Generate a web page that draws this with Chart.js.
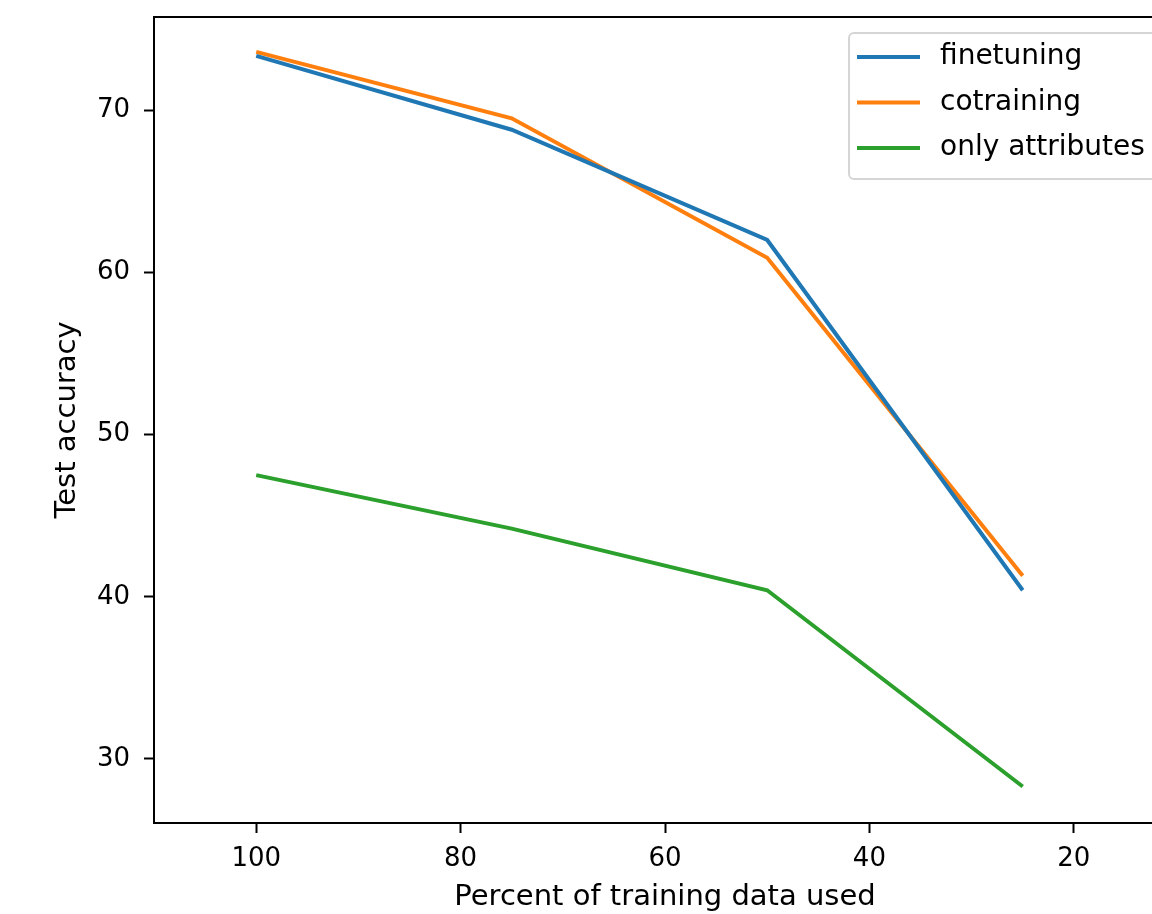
<!DOCTYPE html>
<html>
<head>
<meta charset="utf-8">
<script src="https://cdn.jsdelivr.net/npm/chart.js@4.4.1/dist/chart.umd.min.js"></script>
<style>
  html, body { margin: 0; padding: 0; background: #fff; overflow: hidden; width: 1152px; height: 914px; }
  #wrap { position: absolute; left: 0; top: 0; width: 1200px; height: 914px; }
  canvas { display: block; }
</style>
</head>
<body>
<div id="wrap"><canvas id="c" width="1200" height="914"></canvas></div>
<script>
// ---- data ----
const percentUsed = [100, 75, 50, 25];
const finetuning = [73.35, 68.8, 62.0, 40.4];
const cotraining = [73.6, 69.5, 60.9, 41.3];
const onlyAttributes = [47.5, 44.2, 40.4, 28.3];
const seriesNames = ['finetuning', 'cotraining', 'only attributes'];
const xTicks = [100, 80, 60, 40, 20];
const yTicks = [30, 40, 50, 60, 70];
const xLabel = 'Percent of training data used';
const yLabel = 'Test accuracy';

const colors = ['#1f77b4', '#ff7f0e', '#2ca02c'];
const FONT = '"DejaVu Sans", sans-serif';

function pts(vals) { return percentUsed.map((x, i) => ({ x: x, y: vals[i] })); }

const frame = {
  id: 'frame',
  afterDatasetsDraw(chart) {
    const { ctx, chartArea: a } = chart;
    ctx.save();
    ctx.strokeStyle = '#000';
    ctx.lineWidth = 2;
    ctx.strokeRect(a.left, a.top, a.right - a.left, a.bottom - a.top);
    ctx.restore();
  }
};

const legendBox = {
  id: 'legendBox',
  afterDraw(chart) {
    const { ctx, chartArea: a } = chart;
    const left = a.right - 327, top = 33, w = 320, h = 146;
    ctx.save();
    ctx.beginPath();
    ctx.roundRect(left, top, w, h, 5);
    ctx.fillStyle = 'rgba(255,255,255,0.8)';
    ctx.fill();
    ctx.strokeStyle = '#d5d5d5';
    ctx.lineWidth = 2;
    ctx.stroke();
    ctx.font = '28px ' + FONT;
    ctx.textBaseline = 'middle';
    ctx.textAlign = 'left';
    chart.data.datasets.forEach((ds, i) => {
      const y = 57 + i * 45.5;
      ctx.strokeStyle = ds.borderColor;
      ctx.lineWidth = 4;
      ctx.beginPath();
      ctx.moveTo(left + 8, y);
      ctx.lineTo(left + 71, y);
      ctx.stroke();
      ctx.fillStyle = '#000';
      ctx.fillText(ds.label, left + 91, y);
    });
    ctx.restore();
  }
};

new Chart(document.getElementById('c'), {
  type: 'line',
  data: {
    datasets: [
      { label: seriesNames[0], data: pts(finetuning), borderColor: colors[0] },
      { label: seriesNames[1], data: pts(cotraining), borderColor: colors[1] },
      { label: seriesNames[2], data: pts(onlyAttributes), borderColor: colors[2] }
    ].map(d => Object.assign(d, { borderWidth: 4, pointRadius: 0, tension: 0, fill: false, backgroundColor: d.borderColor, borderJoinStyle: 'miter' }))
  },
  options: {
    responsive: false,
    animation: false,
    devicePixelRatio: 1,
    layout: { padding: { left: 0, top: 17, right: 24, bottom: 0 } },
    plugins: { legend: { display: false }, tooltip: { enabled: false } },
    scales: {
      x: {
        type: 'linear',
        reverse: true,
        min: 10, max: 110,
        afterBuildTicks: s => { s.ticks = xTicks.map(v => ({ value: v })); },
        afterFit: s => { s.height = 91; s.paddingLeft = 0; s.paddingRight = 0; },
        grid: { display: true, drawOnChartArea: false, drawTicks: true, tickLength: 10, tickWidth: 2, tickColor: '#000' },
        border: { display: true, color: '#000', width: 2 },
        ticks: { color: '#000', font: { family: FONT, size: 26 }, padding: 11, maxRotation: 0, autoSkip: false },
        title: { display: true, text: xLabel, color: '#000', font: { family: FONT, size: 29 }, padding: { top: 0, bottom: -1 } }
      },
      y: {
        type: 'linear',
        min: 26.05, max: 75.75,
        afterBuildTicks: s => { s.ticks = yTicks.map(v => ({ value: v })); },
        afterFit: s => { s.width = 154; s.paddingTop = 0; s.paddingBottom = 0; },
        grid: { display: true, drawOnChartArea: false, drawTicks: true, tickLength: 10, tickWidth: 2, tickColor: '#000' },
        border: { display: true, color: '#000', width: 2 },
        ticks: { color: '#000', font: { family: FONT, size: 26 }, padding: 14, autoSkip: false },
        title: { display: true, text: yLabel, color: '#000', font: { family: FONT, size: 29 }, padding: { top: 50, bottom: 0 } }
      }
    }
  },
  plugins: [frame, legendBox]
});
</script>
</body>
</html>
